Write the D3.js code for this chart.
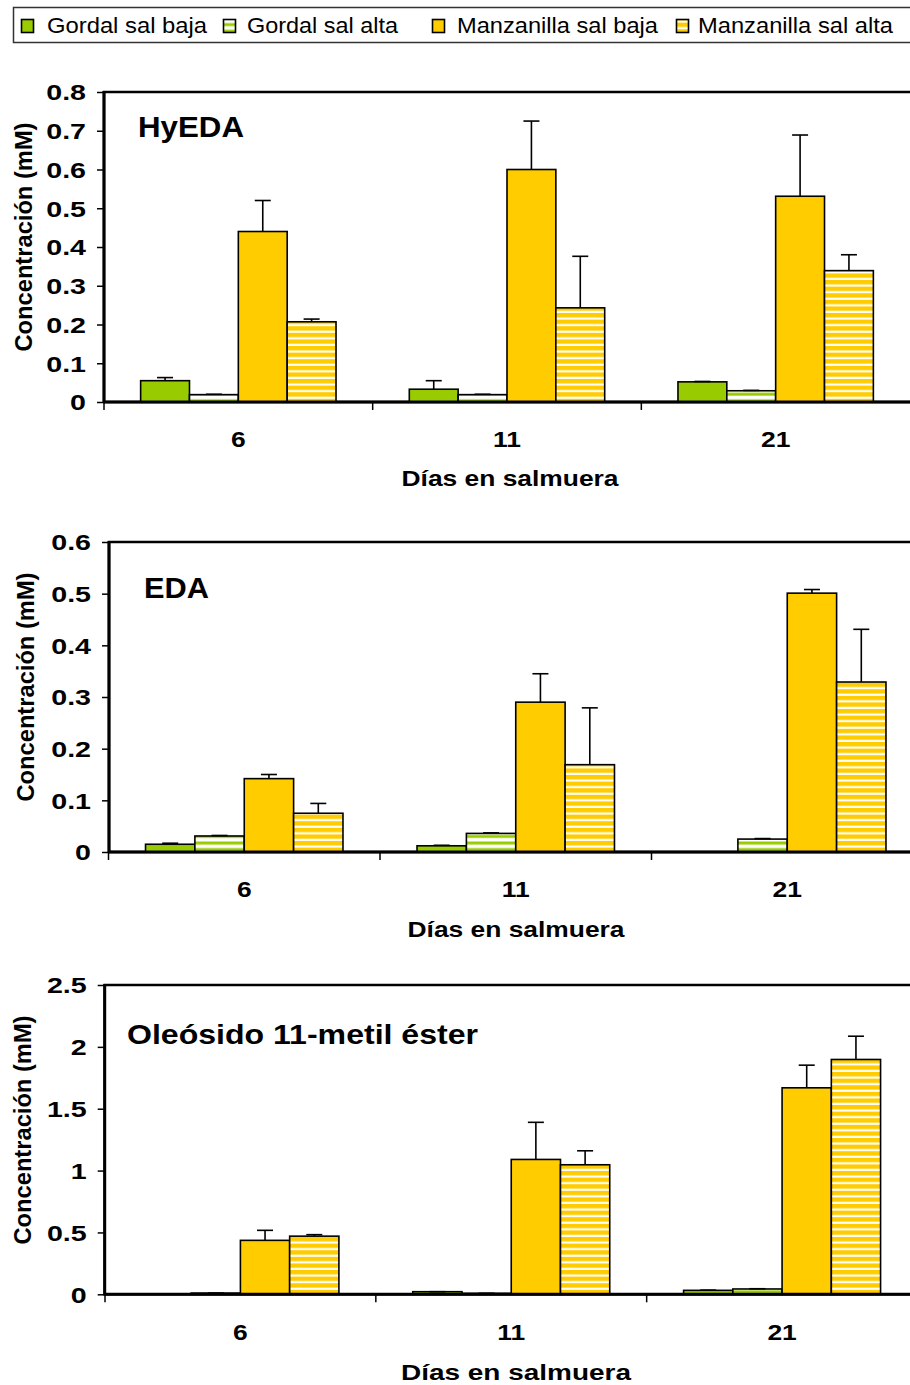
<!DOCTYPE html>
<html>
<head>
<meta charset="utf-8">
<script src="https://cdn.jsdelivr.net/npm/d3@7"></script>
<style>
  html, body { margin: 0; padding: 0; background: #fff; }
  svg { display: block; font-family: "Liberation Sans", Arial, sans-serif; }
</style>
</head>
<body>
<svg id="chart" width="910" height="1385"></svg>
<script>
// ---- data -----------------------------------------------------------
const days = ["6", "11", "21"];
const series = ["Gordal sal baja", "Gordal sal alta", "Manzanilla sal baja", "Manzanilla sal alta"];

// rows = days in brine, columns = series (mM)
const hyedaMean = [[0.055, 0.019, 0.440, 0.207], [0.033, 0.019, 0.600, 0.243], [0.052, 0.029, 0.531, 0.339]];
const hyedaSD   = [[0.008, 0.001, 0.080, 0.007], [0.022, 0.001, 0.125, 0.133], [0.001, 0.001, 0.158, 0.041]];

const edaMean = [[0.015, 0.031, 0.142, 0.075], [0.012, 0.036, 0.290, 0.169], [0.000, 0.025, 0.501, 0.329]];
const edaSD   = [[0.002, 0.001, 0.008, 0.019], [0.001, 0.001, 0.055, 0.110], [0.000, 0.001, 0.007, 0.102]];

const oleoMean = [[0.000, 0.010, 0.436, 0.470], [0.021, 0.008, 1.090, 1.047], [0.032, 0.043, 1.669, 1.898]];
const oleoSD   = [[0.000, 0.000, 0.081, 0.012], [0.000, 0.000, 0.300, 0.113], [0.002, 0.002, 0.183, 0.188]];

const hyedaTicks = [0, 0.1, 0.2, 0.3, 0.4, 0.5, 0.6, 0.7, 0.8];
const hyedaTickLabels = ["0", "0.1", "0.2", "0.3", "0.4", "0.5", "0.6", "0.7", "0.8"];
const edaTicks = [0, 0.1, 0.2, 0.3, 0.4, 0.5, 0.6];
const edaTickLabels = ["0", "0.1", "0.2", "0.3", "0.4", "0.5", "0.6"];
const oleoTicks = [0, 0.5, 1, 1.5, 2, 2.5];
const oleoTickLabels = ["0", "0.5", "1", "1.5", "2", "2.5"];

const panelTitles = ["HyEDA", "EDA", "Oleósido 11-metil éster"];
const yTitle = "Concentración (mM)";
const xTitle = "Días en salmuera";

// ---- styling ---------------------------------------------------------
const GREEN = "#99CC00", YELLOW = "#FFCC00";
const svg = d3.select("#chart");
const defs = svg.append("defs");

// horizontal stripe fills for the "sal alta" series
const pG = defs.append("pattern").attr("id", "stripeGreen").attr("patternUnits", "userSpaceOnUse")
  .attr("width", 10).attr("height", 6.6);
pG.append("rect").attr("width", 10).attr("height", 6.6).attr("fill", "#fff");
pG.append("rect").attr("y", 3.3).attr("width", 10).attr("height", 3).attr("fill", GREEN);

const pY = defs.append("pattern").attr("id", "stripeYellow").attr("patternUnits", "userSpaceOnUse")
  .attr("width", 10).attr("height", 6.6);
pY.append("rect").attr("width", 10).attr("height", 6.6).attr("fill", YELLOW);
pY.append("rect").attr("y", 0.6).attr("width", 10).attr("height", 2.2).attr("fill", "#fff");

const fills = d3.scaleOrdinal().domain(series)
  .range([GREEN, "url(#stripeGreen)", YELLOW, "url(#stripeYellow)"]);

// widen text horizontally by factor k
function stretch(sel, k) {
  sel.each(function () {
    const w = this.getComputedTextLength();
    d3.select(this).attr("textLength", w * k).attr("lengthAdjust", "spacingAndGlyphs");
  });
}

// ---- legend ----------------------------------------------------------
const legend = svg.append("g");
legend.append("rect").attr("x", 13.5).attr("y", 7.5).attr("width", 920).attr("height", 35)
  .attr("fill", "#fff").attr("stroke", "#333").attr("stroke-width", 1.5);
const legendSwatchX = [21, 223, 432, 676];
const legendTextX = [47, 247, 457, 698];
const legendTextW = [160, 151, 201, 195];
series.forEach((s, i) => {
  legend.append("rect").attr("x", legendSwatchX[i] + 0.5).attr("y", 19.5).attr("width", 12).attr("height", 13)
    .attr("fill", fills(s)).attr("stroke", "#000").attr("stroke-width", 1.6);
  legend.append("text").attr("x", legendTextX[i]).attr("y", 33).attr("font-size", 22.5)
    .attr("textLength", legendTextW[i]).attr("lengthAdjust", "spacingAndGlyphs").text(s);
});

// ---- panels ------------------------------------------------------------
const panels = [
  { title: panelTitles[0], mean: hyedaMean, sd: hyedaSD, ticks: hyedaTicks, labels: hyedaTickLabels, max: 0.8,
    left: 104, top: 92, bottom: 402, x0: 104, x1: 910,
    titleX: 138, titleY: 137, titleSize: 30, titleW: 106,
    yTitleX: 32, yTitleC: 237, catY: 447, xTitleC: 510, xTitleY: 486, xTitleW: 217 },
  { title: panelTitles[1], mean: edaMean, sd: edaSD, ticks: edaTicks, labels: edaTickLabels, max: 0.6,
    left: 109, top: 542, bottom: 852, x0: 108.5, x1: 923,
    titleX: 144, titleY: 598, titleSize: 29, titleW: 65,
    yTitleX: 34, yTitleC: 687, catY: 897, xTitleC: 516, xTitleY: 937, xTitleW: 217 },
  { title: panelTitles[2], mean: oleoMean, sd: oleoSD, ticks: oleoTicks, labels: oleoTickLabels, max: 2.5,
    left: 104.7, top: 985, bottom: 1294.3, x0: 105, x1: 917.5,
    titleX: 127, titleY: 1044, titleSize: 27, titleW: 351,
    yTitleX: 31, yTitleC: 1130, catY: 1340, xTitleC: 516, xTitleY: 1380, xTitleW: 230 }
];

const GAP = 1.5 / 5.5;

panels.forEach(p => {
  const g = svg.append("g");
  const y = d3.scaleLinear().domain([0, p.max]).range([p.bottom, p.top]);
  const x = d3.scaleBand().domain(days).range([p.x0, p.x1]).paddingInner(GAP).paddingOuter(GAP / 2);
  const xs = d3.scaleBand().domain(series).range([0, x.bandwidth()]);

  // plot frame
  g.append("rect").attr("x", p.left).attr("y", p.top).attr("width", 930 - p.left).attr("height", p.bottom - p.top)
    .attr("fill", "none").attr("stroke", "#000").attr("stroke-width", 2.5);

  // bars
  days.forEach((d, i) => {
    series.forEach((s, j) => {
      const v = p.mean[i][j];
      if (v <= 0) return;
      g.append("rect")
        .attr("x", x(d) + xs(s)).attr("y", y(v))
        .attr("width", xs.bandwidth()).attr("height", y(0) - y(v))
        .attr("fill", fills(s)).attr("stroke", "#000").attr("stroke-width", 1.6);
    });
  });

  // error bars (upper half)
  days.forEach((d, i) => {
    series.forEach((s, j) => {
      const v = p.mean[i][j], e = p.sd[i][j];
      if (v <= 0) return;
      const cx = x(d) + xs(s) + xs.bandwidth() / 2;
      g.append("line").attr("x1", cx).attr("x2", cx).attr("y1", y(v)).attr("y2", y(v + e))
        .attr("stroke", "#000").attr("stroke-width", 1.6);
      g.append("line").attr("x1", cx - 8).attr("x2", cx + 8).attr("y1", y(v + e)).attr("y2", y(v + e))
        .attr("stroke", "#000").attr("stroke-width", 1.6);
    });
  });

  // value axis
  const yAxis = g.append("g").attr("transform", `translate(${p.left},0)`)
    .call(d3.axisLeft(y).tickValues(p.ticks).tickSize(7).tickPadding(11)
      .tickFormat((d, i) => p.labels[i]));
  yAxis.select(".domain").remove();
  yAxis.selectAll(".tick line").attr("stroke", "#000").attr("stroke-width", 1.5);
  yAxis.selectAll(".tick text").attr("font-size", 22).attr("font-weight", "bold")
    .attr("font-family", "Liberation Sans, Arial, sans-serif").attr("fill", "#000")
    .attr("dy", "0.36em").call(stretch, 1.3);
  g.append("line").attr("x1", p.left).attr("x2", p.left).attr("y1", p.top - 1).attr("y2", p.bottom + 1)
    .attr("stroke", "#000").attr("stroke-width", 3);

  // category axis
  g.append("line").attr("x1", p.left).attr("x2", 910).attr("y1", p.bottom).attr("y2", p.bottom)
    .attr("stroke", "#000").attr("stroke-width", 3);
  days.forEach(d => {
    const bx = x(d) - x.step() * GAP / 2;
    g.append("line").attr("x1", bx).attr("x2", bx).attr("y1", p.bottom).attr("y2", p.bottom + 8)
      .attr("stroke", "#000").attr("stroke-width", 1.5);
    g.append("text").attr("x", x(d) + x.bandwidth() / 2).attr("y", p.catY)
      .attr("text-anchor", "middle").attr("font-size", 22).attr("font-weight", "bold")
      .text(d).call(stretch, 1.2);
  });

  // titles
  g.append("text").attr("x", p.titleX).attr("y", p.titleY).attr("font-size", p.titleSize)
    .attr("font-weight", "bold").attr("textLength", p.titleW).attr("lengthAdjust", "spacingAndGlyphs")
    .text(p.title);
  g.append("text").attr("x", p.xTitleC).attr("y", p.xTitleY).attr("text-anchor", "middle")
    .attr("font-size", 22).attr("font-weight", "bold")
    .attr("textLength", p.xTitleW).attr("lengthAdjust", "spacingAndGlyphs").text(xTitle);
  g.append("text").attr("transform", `translate(${p.yTitleX},${p.yTitleC}) rotate(-90)`)
    .attr("text-anchor", "middle").attr("font-size", 23).attr("font-weight", "bold")
    .attr("textLength", 229).attr("lengthAdjust", "spacingAndGlyphs").text(yTitle);
});
</script>
</body>
</html>
